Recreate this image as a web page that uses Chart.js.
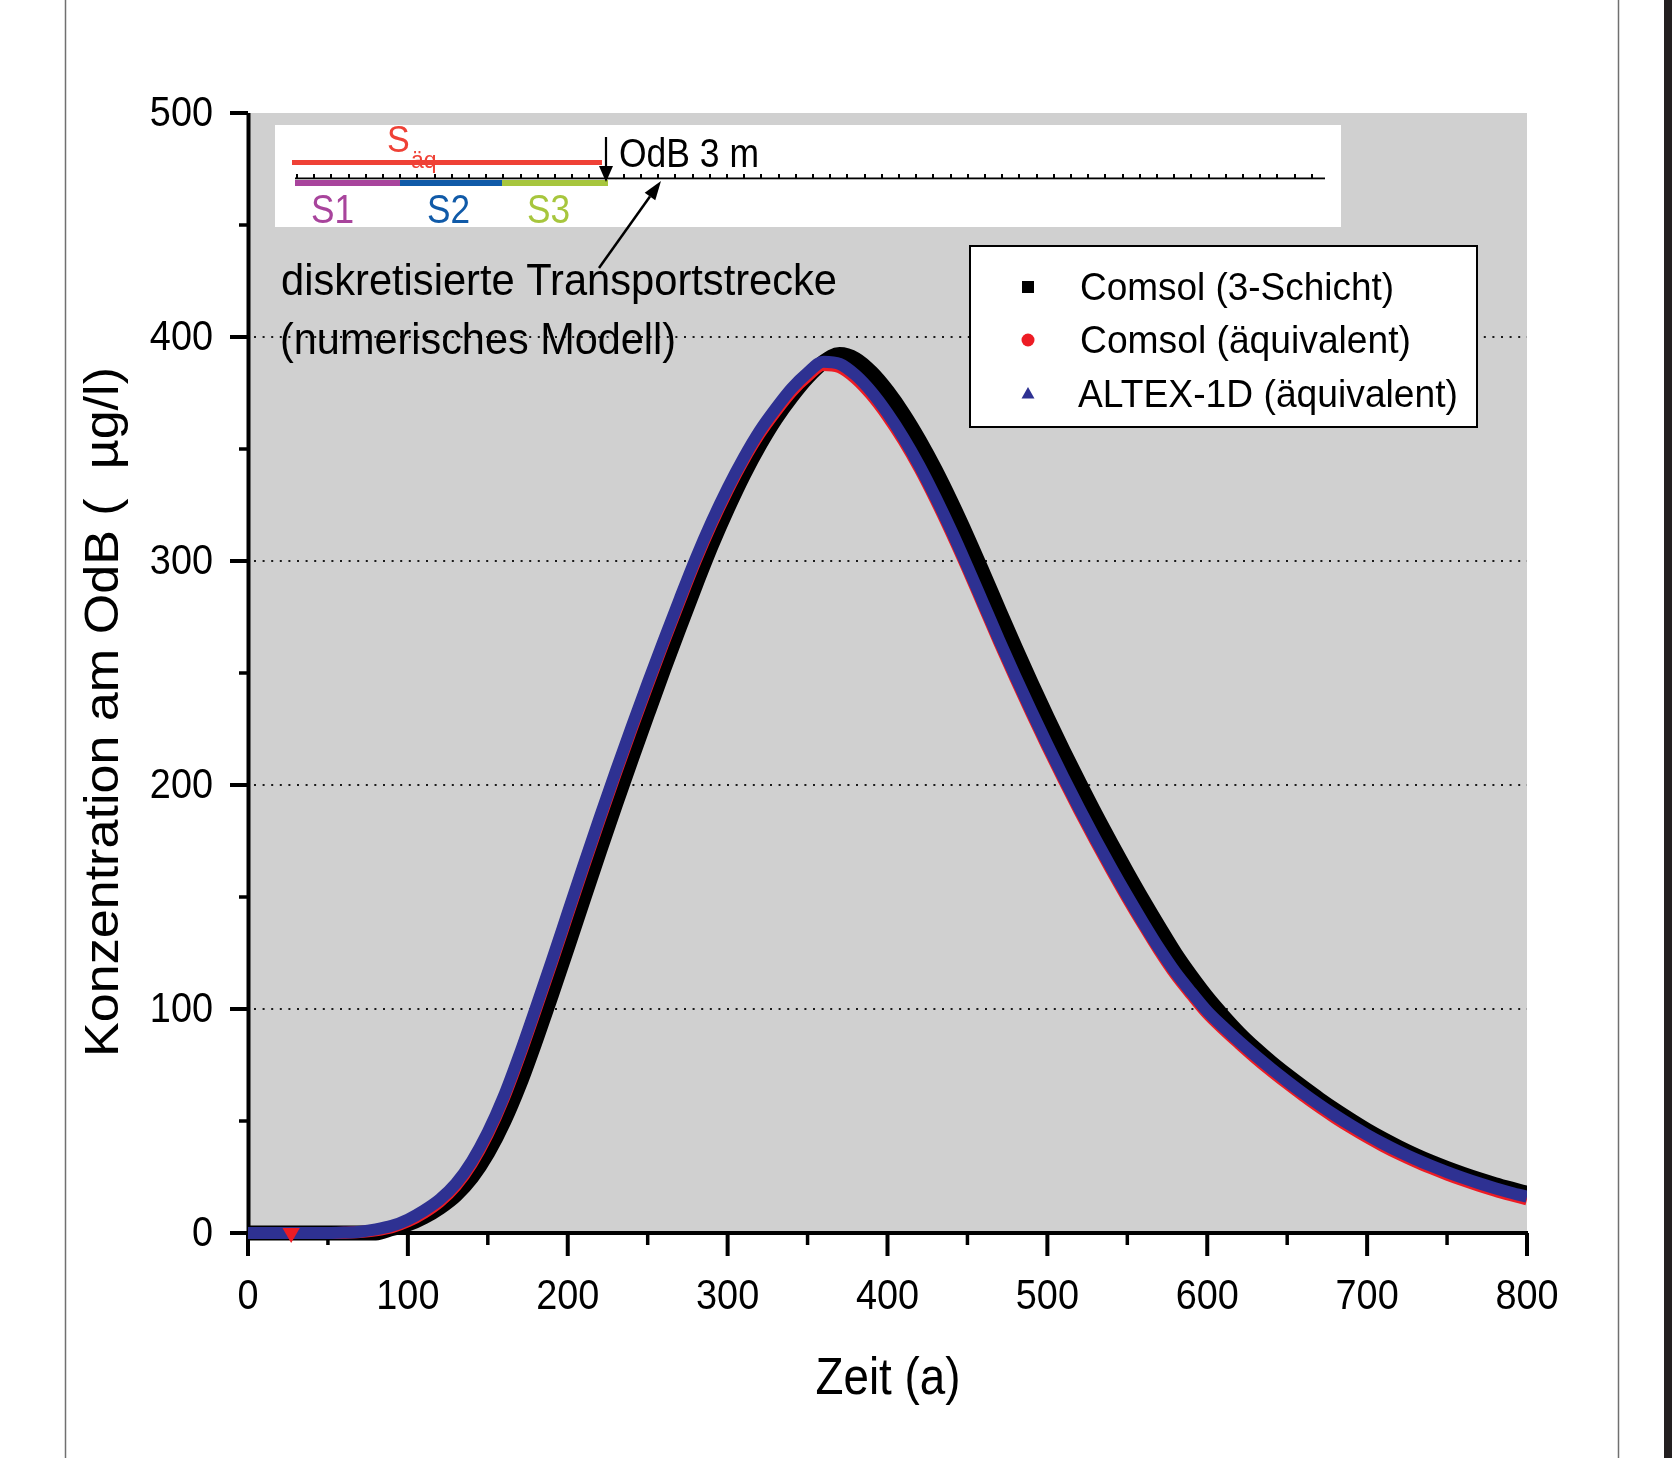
<!DOCTYPE html>
<html>
<head>
<meta charset="utf-8">
<script src="https://cdn.jsdelivr.net/npm/chart.js@4.4.1/dist/chart.umd.min.js"></script>
<style>
html,body{margin:0;padding:0;background:#fff;}
#c{display:block;}
</style>
</head>
<body>
<canvas id="c" width="1672" height="1458"></canvas>
<script>
// ---------- data ----------
const TIME = [0,10,20,30,40,50,60,70,80,90,100,110,120,130,140,150,160,170,180,190,200,
  210,220,230,240,250,260,270,280,290,300,310,320,330,340,350,360,370,380,390,400,
  410,420,430,440,450,460,470,480,490,500,510,520,530,540,550,560,570,580,590,600,
  610,620,630,640,650,660,670,680,690,700,710,720,730,740,750,760,770,780,790,800];

const COMSOL_3SCHICHT = [0,0,0,0,0,0,0,0,0,2,4,7.2,11.5,17.1,25,35.9,49.8,66.7,86.2,106.8,128,
  149.5,170.8,191.7,212,232,251.7,270.7,289.4,307.3,323.6,338.6,351.9,363.6,373.5,382.1,388.8,392.2,390,384,375.6,
  365.4,353.6,340.4,325.9,310.4,294.1,277.5,261.2,245.3,230,215.1,200.8,186.9,173.6,160.7,148.2,136.2,124.6,114.4,105,
  96.7,89,82.2,76,70.3,64.9,59.7,54.8,50.2,45.8,41.8,38.1,34.7,31.6,28.8,26.2,23.8,21.6,19.6,17.7];

const COMSOL_AEQUIV = [0,0,0,0,0,0,0.1,0.4,1.2,2.6,5.2,9,14,21,31,44,60,79,99.5,120.5,142,
  163.5,184.5,205,225,244.5,263.5,282,300,316.5,331.5,345,356.8,366.7,375.6,382.5,387.5,386.5,381.5,374,364.6,
  353.7,341.3,327.4,312.4,296.5,280,263.5,247.5,232,217,202.5,188.5,175,162,149.5,137.5,126,115.5,106.5,98,
  91,84.5,78.2,72.3,66.7,61.3,56.2,51.4,46.9,42.7,38.8,35.2,31.9,28.9,26.1,23.5,21.1,18.9,16.9,15];

const ALTEX_AEQUIV = [0,0,0,0,0,0,0.2,0.6,1.6,3.2,6,10,15,22,32,45,61,80,100.5,121.5,143,
  164.5,185.5,206,226,245.5,264.5,283,301,317.5,332.5,346,358,368,377,384,389,388,383,375.5,366,
  355,342.5,328.5,313.5,297.5,281,264.5,248.5,233,218,203.5,189.5,176,163,150.5,138.5,127,116.5,107.5,99,
  92,85.5,79.3,73.4,67.8,62.4,57.3,52.5,48,43.8,39.9,36.3,33,30,27.2,24.6,22.2,20,18,16.2];

// isolated red marker near the start
const RED_MARK_T = [27];
const RED_MARK_V = [0];

const SERIES_LABELS = ['Comsol (3-Schicht)', 'Comsol (äquivalent)', 'ALTEX-1D (äquivalent)'];
const X_TICKS = [0,100,200,300,400,500,600,700,800];
const X_MINOR = [50,150,250,350,450,550,650,750];
const Y_TICKS = [0,100,200,300,400,500];
const Y_MINOR = [50,150,250,350,450];

const X_TITLE = 'Zeit (a)';
const Y_TITLE = 'Konzentration am OdB (  µg/l)';
const NOTE_LINE1 = 'diskretisierte Transportstrecke';
const NOTE_LINE2 = '(numerisches Modell)';
const SEG_LABELS = ['S1','S2','S3'];

// ---------- styling ----------
const FONT = "'Liberation Sans', Arial, Helvetica, sans-serif";
const C_BLACK = '#000000';
const C_RED = '#ed1c24';
const C_BLUE = '#2e3192';
const C_GRAY = '#d0d0d0';

function pts(vals){ return TIME.map((t,i)=>({x:t, y:vals[i]})); }

function txt(ctx, s, x, y, size, o){
  o = o || {};
  ctx.save();
  ctx.font = size + 'px ' + FONT;
  ctx.fillStyle = o.color || '#000';
  ctx.textBaseline = 'alphabetic';
  ctx.textAlign = o.align || 'left';
  ctx.translate(x, y);
  if (o.rot) ctx.rotate(o.rot);
  let sx = o.sx || 1;
  if (o.width) sx = o.width / ctx.measureText(s).width;
  ctx.scale(sx, 1);
  ctx.fillText(s, 0, 0);
  ctx.restore();
}

function seg(ctx, x1, y1, x2, y2){ ctx.beginPath(); ctx.moveTo(x1,y1); ctx.lineTo(x2,y2); ctx.stroke(); }

function arrow(ctx, x1, y1, x2, y2, hl, hw, lw){
  const dx = x2-x1, dy = y2-y1, L = Math.hypot(dx,dy);
  const ux = dx/L, uy = dy/L, nx = -uy, ny = ux;
  const bx = x2 - hl*ux, by = y2 - hl*uy;
  ctx.save();
  ctx.strokeStyle = '#000'; ctx.fillStyle = '#000'; ctx.lineWidth = lw;
  seg(ctx, x1, y1, bx, by);
  ctx.beginPath();
  ctx.moveTo(x2, y2);
  ctx.lineTo(bx + hw*nx, by + hw*ny);
  ctx.lineTo(bx - hw*nx, by - hw*ny);
  ctx.closePath(); ctx.fill();
  ctx.restore();
}

const decor = {
  id: 'decor',
  beforeDraw(chart){
    const {ctx, chartArea:a, width:W, height:H} = chart;
    ctx.save();
    ctx.fillStyle = '#fff'; ctx.fillRect(0,0,W,H);
    // page frame lines
    ctx.strokeStyle = '#707070'; ctx.lineWidth = 1.5;
    seg(ctx, 65.5, 0, 65.5, H);
    seg(ctx, 1618.5, 0, 1618.5, H);
    ctx.fillStyle = '#231f20'; ctx.fillRect(1664, 0, 8, H);
    // plot background
    ctx.fillStyle = C_GRAY;
    ctx.fillRect(a.left, a.top, a.right - a.left, a.bottom - a.top);
    ctx.restore();
  },
  beforeDatasetsDraw(chart){
    const {ctx, chartArea:a, scales:{x:xs, y:ys}} = chart;
    ctx.save();
    // dotted grid lines
    ctx.strokeStyle = '#1a1a1a'; ctx.lineWidth = 2; ctx.setLineDash([2, 6.6]);
    Y_TICKS.forEach(v=>{
      if (v <= 0 || v >= 500) return;
      const y = Math.round(ys.getPixelForValue(v));
      seg(ctx, a.left + 6, y, a.right, y);
    });
    ctx.setLineDash([]);
    // axes
    ctx.strokeStyle = '#000'; ctx.lineWidth = 4; ctx.lineCap = 'butt';
    seg(ctx, a.left + 0.5, a.top, a.left + 0.5, a.bottom + 2);
    seg(ctx, a.left - 1.5, a.bottom, a.right + 1, a.bottom);
    // y ticks + labels
    Y_TICKS.forEach(v=>{
      const y = ys.getPixelForValue(v);
      seg(ctx, a.left - 18, y, a.left, y);
      txt(ctx, String(v), a.left - 35, y + 13, 43, {align:'right', sx:0.88});
    });
    ctx.lineWidth = 3.5;
    Y_MINOR.forEach(v=>{ const y = ys.getPixelForValue(v); seg(ctx, a.left - 9, y, a.left, y); });
    // x ticks + labels
    ctx.lineWidth = 4;
    X_TICKS.forEach(v=>{
      const x = xs.getPixelForValue(v);
      seg(ctx, x, a.bottom, x, a.bottom + 23);
      txt(ctx, String(v), x, a.bottom + 76, 43, {align:'center', sx:0.88});
    });
    ctx.lineWidth = 3.5;
    X_MINOR.forEach(v=>{ const x = xs.getPixelForValue(v); seg(ctx, x, a.bottom, x, a.bottom + 12); });
    ctx.restore();
  },
  afterDraw(chart){
    const {ctx} = chart;
    ctx.save();
    // ---- schematic box ----
    ctx.fillStyle = '#fff'; ctx.fillRect(275, 125, 1066, 102);
    ctx.fillStyle = '#ef4136'; ctx.fillRect(292, 160, 310, 5);
    ctx.fillStyle = '#000'; ctx.fillRect(295, 177.5, 1030, 1.8);
    for (let x = 297; x <= 1325; x += 17.2) ctx.fillRect(Math.round(x) - 1, 174, 2, 4);
    ctx.fillStyle = '#a8449c'; ctx.fillRect(295, 180, 105, 6);
    ctx.fillStyle = '#105aa8'; ctx.fillRect(400, 180, 102, 6);
    ctx.fillStyle = '#a7c63d'; ctx.fillRect(502, 180, 106, 6);
    txt(ctx, 'S', 387, 152, 37, {color:'#ef4136', sx:0.92});
    txt(ctx, 'äq', 411, 168, 23, {color:'#ef4136'});
    txt(ctx, SEG_LABELS[0], 311, 223, 40, {color:'#a8449c', sx:0.88});
    txt(ctx, SEG_LABELS[1], 427, 223, 40, {color:'#105aa8', sx:0.88});
    txt(ctx, SEG_LABELS[2], 527, 223, 40, {color:'#a7c63d', sx:0.88});
    arrow(ctx, 606, 137, 606, 182, 16, 7, 2.2);
    txt(ctx, 'OdB 3 m', 619, 167, 40, {width:140});
    arrow(ctx, 599, 268, 661, 181, 19, 6.5, 2.5);
    txt(ctx, NOTE_LINE1, 281, 295, 44, {width:556});
    txt(ctx, NOTE_LINE2, 280, 354, 44, {width:396});
    // ---- legend ----
    ctx.fillStyle = '#fff'; ctx.fillRect(970, 246, 507, 181);
    ctx.strokeStyle = '#000'; ctx.lineWidth = 2; ctx.strokeRect(970, 246, 507, 181);
    const rowsY = [287, 340, 393];
    const symX = 1028;
    ctx.fillStyle = C_BLACK; ctx.fillRect(symX - 6, rowsY[0] - 6, 12, 12);
    ctx.fillStyle = C_RED; ctx.beginPath(); ctx.arc(symX, rowsY[1], 6.5, 0, Math.PI*2); ctx.fill();
    ctx.fillStyle = C_BLUE; ctx.beginPath();
    ctx.moveTo(symX, rowsY[2] - 6); ctx.lineTo(symX + 6.5, rowsY[2] + 5.5); ctx.lineTo(symX - 6.5, rowsY[2] + 5.5);
    ctx.closePath(); ctx.fill();
    txt(ctx, SERIES_LABELS[0], 1080, 300, 39, {width:314});
    txt(ctx, SERIES_LABELS[1], 1080, 353, 39, {width:331});
    txt(ctx, SERIES_LABELS[2], 1078, 407, 39, {width:380});
    // ---- axis titles ----
    txt(ctx, X_TITLE, 888, 1394, 52, {align:'center', sx:0.88});
    txt(ctx, Y_TITLE, 118, 712, 49, {align:'center', rot:-Math.PI/2, width:690});
    ctx.restore();
  }
};

const lineDs = (label, vals, color, w, order) => ({
  label, data: pts(vals), borderColor: color, backgroundColor: color,
  borderWidth: w, pointRadius: 0, fill: false, showLine: true,
  cubicInterpolationMode: 'monotone', borderJoinStyle: 'round', borderCapStyle: 'butt',
  clip: {left: 0, right: 0, top: 12, bottom: 12}, order
});

new Chart(document.getElementById('c'), {
  type: 'line',
  data: {
    datasets: [
      lineDs(SERIES_LABELS[0], COMSOL_3SCHICHT, C_BLACK, 15, 3),
      lineDs(SERIES_LABELS[1], COMSOL_AEQUIV, C_RED, 12, 2),
      lineDs(SERIES_LABELS[2], ALTEX_AEQUIV, C_BLUE, 12, 1),
      {
        label: 'mark', data: RED_MARK_T.map((t,i)=>({x:t, y:RED_MARK_V[i]})),
        showLine: false, pointStyle: 'triangle', rotation: 180, pointRadius: 10,
        backgroundColor: C_RED, borderColor: C_RED, borderWidth: 0, order: 0,
        clip: {left: 0, right: 0, top: 12, bottom: 12}
      }
    ]
  },
  options: {
    responsive: false,
    animation: false,
    events: [],
    layout: {padding: {left: 0, right: 145, top: 113, bottom: 0}},
    plugins: {legend: {display: false}, tooltip: {enabled: false}},
    scales: {
      x: {
        type: 'linear', min: 0, max: 800,
        afterBuildTicks(s){ s.ticks = X_TICKS.map(v=>({value:v})); },
        afterFit(s){ s.height = 225; },
        grid: {display: false, drawTicks: false},
        border: {display: false},
        ticks: {display: false}
      },
      y: {
        type: 'linear', min: 0, max: 500,
        afterBuildTicks(s){ s.ticks = Y_TICKS.map(v=>({value:v})); },
        afterFit(s){ s.width = 248; },
        grid: {display: false, drawTicks: false},
        border: {display: false},
        ticks: {display: false}
      }
    }
  },
  plugins: [decor]
});
</script>
</body>
</html>
